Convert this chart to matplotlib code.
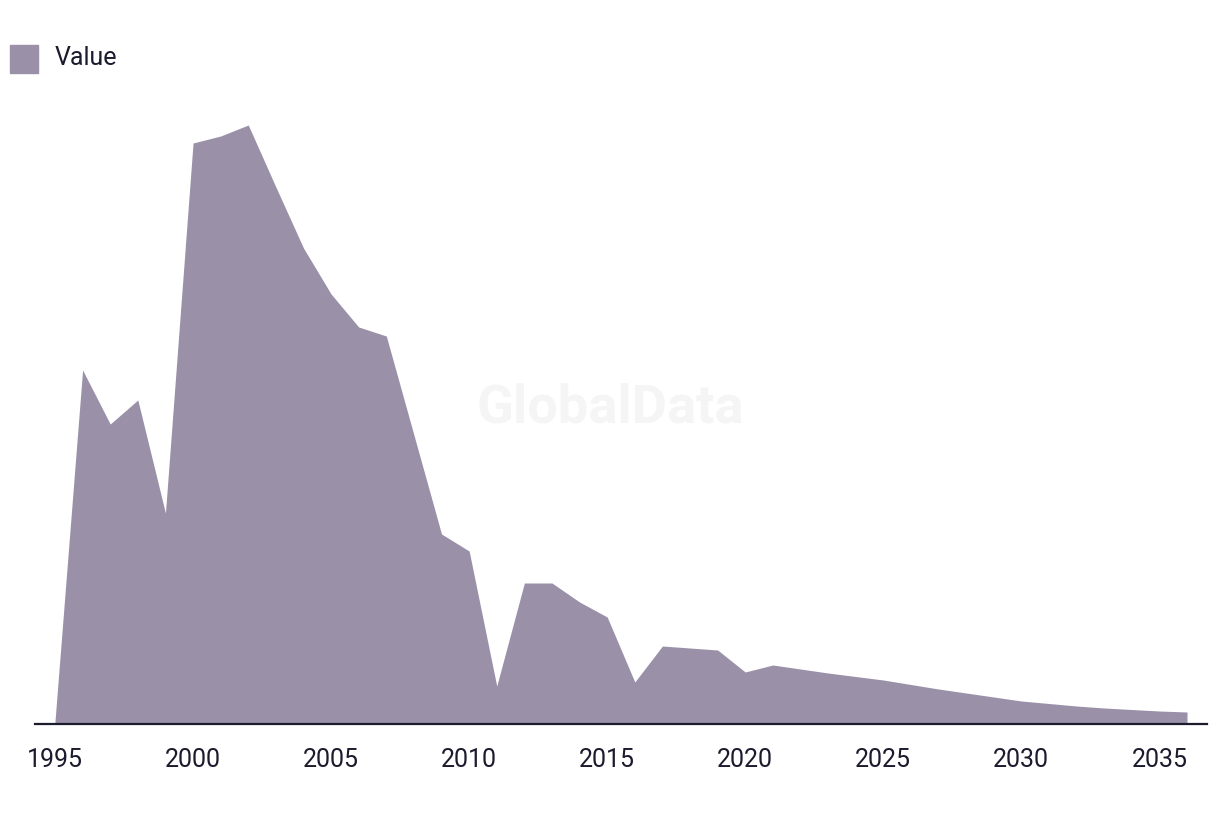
import matplotlib
matplotlib.use("Agg")
import matplotlib.pyplot as plt
from matplotlib.patches import Rectangle

years = list(range(1995, 2037))
values = [3, 354, 300, 324, 211, 581, 588, 599, 537, 476, 430, 397, 388, 289,
          190, 173, 38, 141, 141, 122, 107, 42, 78, 76, 74, 52, 59, 55, 51,
          47.5, 44, 39.5, 35, 31, 27, 23, 20.5, 18, 16, 14.5, 13, 12]
tick_years = [1995, 2000, 2005, 2010, 2015, 2020, 2025, 2030, 2035]
series_name = "Value"

FILL = "#9a91a9"
INK = "#1c1b2e"
plt.rcParams['font.family'] = ['Roboto', 'DejaVu Sans']

W, H = 1220, 814
fig = plt.figure(figsize=(W / 100, H / 100), dpi=100)
ax = fig.add_axes([35 / W, 90 / H, (1207 - 35) / W, 624 / H])

ax.fill_between(years, values, 0, color=FILL, linewidth=0)
ax.set_xlim(1995 - 20 / 27.62, 2036 + 20 / 27.62)
ax.set_ylim(0, 624)

for s in ["top", "right", "left"]:
    ax.spines[s].set_visible(False)
ax.spines["bottom"].set_color(INK)
ax.spines["bottom"].set_linewidth(1.6)
ax.set_yticks([])
ax.set_xticks(tick_years)
ax.set_xticklabels([str(t) for t in tick_years])
ax.tick_params(axis="x", length=0, pad=17, labelsize=18, labelcolor=INK)

# watermark
fig.text(610 / W, 1 - 408 / H, "GlobalData", ha="center", va="center",
         fontsize=39, fontweight="bold", color="#f5f5f5", zorder=0)

# legend
fig.patches.append(Rectangle((10 / W, 1 - 73 / H), 28 / W, 28 / H,
                             transform=fig.transFigure, color=FILL))
fig.text(55 / W, 1 - 58 / H, series_name, ha="left", va="center",
         fontsize=18, color=INK)

fig.savefig("out.png", dpi=100)
